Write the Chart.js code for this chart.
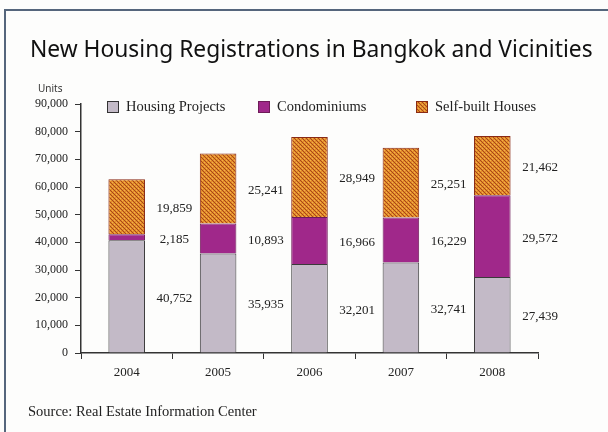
<!DOCTYPE html>
<html>
<head>
<meta charset="utf-8">
<script src="https://cdn.jsdelivr.net/npm/chart.js@4.4.1/dist/chart.umd.min.js"></script>
<style>
  html, body { margin: 0; padding: 0; background: #fdfdfc; }
  #wrap { position: relative; width: 608px; height: 432px; }
</style>
</head>
<body>
<div id="wrap"><canvas id="c" width="608" height="432"></canvas></div>
<script>
// ---- data ----
const years = ['2004', '2005', '2006', '2007', '2008'];
const housingProjects = [40752, 35935, 32201, 32741, 27439];
const condominiums = [2185, 10893, 16966, 16229, 29572];
const selfBuiltHouses = [19859, 25241, 28949, 25251, 21462];
const seriesNames = ['Housing Projects', 'Condominiums', 'Self-built Houses'];
const yTicks = [0, 10000, 20000, 30000, 40000, 50000, 60000, 70000, 80000, 90000];
const titleText = 'New Housing Registrations in Bangkok and Vicinities';
const unitsText = 'Units';
const sourceText = 'Source: Real Estate Information Center';

// ---- pattern for self-built ----
function makePattern() {
  const p = document.createElement('canvas');
  p.width = 4; p.height = 4;
  const g = p.getContext('2d');
  g.fillStyle = '#e28c2a'; g.fillRect(0, 0, 4, 4);
  g.fillStyle = '#a8461a';
  g.fillRect(0, 0, 1, 1); g.fillRect(1, 1, 1, 1);
  g.fillRect(2, 2, 1, 1); g.fillRect(3, 3, 1, 1);
  g.fillStyle = '#f2b24a';
  g.fillRect(2, 0, 1, 1); g.fillRect(0, 2, 1, 1);
  return g.createPattern(p, 'repeat');
}
const ctx0 = document.getElementById('c').getContext('2d');
const orangePattern = makePattern();

const fills = ['#c3bac7', '#a0288a', orangePattern];
const borders = ['#3a3a3a', '#6e1c58', '#8a2a14'];

const serif = '"Liberation Serif", "Times New Roman", serif';

const decor = {
  id: 'decor',
  beforeDraw(chart) {
    const c = chart.ctx;
    c.save();
    c.fillStyle = '#fdfdfc';
    c.fillRect(0, 0, chart.width, chart.height);
    // frame
    c.strokeStyle = '#55667c';
    c.lineWidth = 2;
    c.beginPath();
    c.moveTo(608, 10); c.lineTo(5, 10); c.lineTo(5, 432);
    c.stroke();
    c.restore();
  },
  afterDraw(chart) {
    const c = chart.ctx;
    c.save();
    // title fitted to width
    let fs = 23;
    c.font = `400 ${fs}px "Noto Sans", sans-serif`;
    const w = c.measureText(titleText).width;
    fs = fs * 563 / w;
    c.font = `400 ${fs}px "Noto Sans", sans-serif`;
    c.fillStyle = '#111';
    c.textBaseline = 'alphabetic';
    c.textAlign = 'left';
    c.fillText(titleText, 30, 57);
    // units
    c.font = `10px "Noto Sans", sans-serif`;
    c.fillStyle = '#333';
    c.fillText(unitsText, 38, 92);
    // source
    c.font = `14.5px ${serif}`;
    c.fillStyle = '#222';
    c.textBaseline = 'middle';
    c.fillText(sourceText, 28, 412);

    // legend
    const lx = [107, 258, 416];
    c.font = `14.5px ${serif}`;
    chart.data.datasets.forEach((ds, i) => {
      c.fillStyle = ds.backgroundColor;
      c.fillRect(lx[i], 101, 12, 12);
      c.strokeStyle = i === 0 ? '#333' : ds.borderColor;
      c.lineWidth = 1;
      c.strokeRect(lx[i] + 0.5, 101.5, 11, 11);
      c.fillStyle = '#222';
      c.textBaseline = 'middle';
      c.fillText(ds.label, lx[i] + 19, 107);
    });

    // data labels
    const xs = chart.scales.x;
    const catW = xs.width / chart.data.labels.length;
    c.font = `13px ${serif}`;
    c.fillStyle = '#222';
    c.textAlign = 'center';
    c.textBaseline = 'middle';
    chart.data.datasets.forEach((ds, di) => {
      const meta = chart.getDatasetMeta(di);
      meta.data.forEach((bar, i) => {
        const v = ds.data[i];
        const y = (bar.y + bar.base) / 2 + 2;
        const x = bar.x + catW / 2 + 2;
        c.fillText(v.toLocaleString('en-US'), x, y);
      });
    });
    c.restore();
  }
};

new Chart(ctx0, {
  type: 'bar',
  data: {
    labels: years,
    datasets: [
      { label: seriesNames[0], data: housingProjects, backgroundColor: fills[0], borderColor: borders[0], borderWidth: 1, borderSkipped: 'bottom' },
      { label: seriesNames[1], data: condominiums, backgroundColor: fills[1], borderColor: borders[1], borderWidth: 1, borderSkipped: 'bottom' },
      { label: seriesNames[2], data: selfBuiltHouses, backgroundColor: fills[2], borderColor: borders[2], borderWidth: 1, borderSkipped: 'bottom' }
    ]
  },
  options: {
    responsive: false,
    animation: false,
    devicePixelRatio: 1,
    barPercentage: 0.4,
    categoryPercentage: 1.0,
    layout: { padding: { left: 0, right: 70, top: 104, bottom: 0 } },
    plugins: { legend: { display: false }, title: { display: false }, tooltip: { enabled: false } },
    scales: {
      x: {
        stacked: true,
        grid: { display: true, drawOnChartArea: false, drawTicks: true, tickLength: 6, color: '#333', offset: true },
        border: { display: true, color: '#333', width: 1.5 },
        ticks: { font: { family: serif, size: 13 }, color: '#222', padding: 6 },
        afterFit(s) { s.height = 79; }
      },
      y: {
        stacked: true,
        min: 0, max: 90000,
        afterBuildTicks(s) { s.ticks = yTicks.map(v => ({ value: v })); },
        grid: { display: true, drawOnChartArea: false, drawTicks: true, tickLength: 6, color: '#333' },
        border: { display: true, color: '#333', width: 1.5 },
        ticks: { font: { family: serif, size: 12 }, color: '#222', padding: 7,
          callback: v => v.toLocaleString('en-US') },
        afterFit(s) { s.width = 81; }
      }
    }
  },
  plugins: [decor]
});
</script>
</body>
</html>
